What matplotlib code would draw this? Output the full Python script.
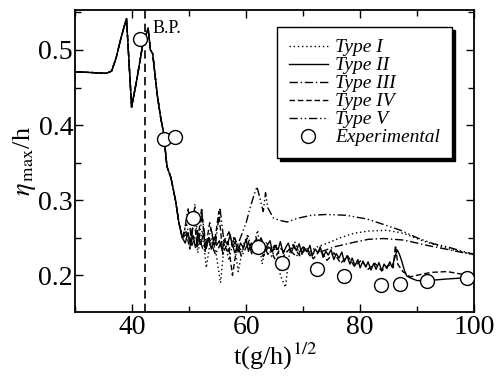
import matplotlib as mpl
mpl.use('Agg')
import matplotlib.pyplot as plt
from matplotlib.ticker import MultipleLocator

mpl.rcParams.update({'font.family': 'Liberation Serif'})
mpl.rcParams.update({'mathtext.fontset': 'stix'})

# common start (all simulations coincide before breaking)
x_common = [30.0, 35.5, 36.4, 37.2, 38.0, 39.0, 39.9, 40.8, 41.8, 42.8,
            43.2, 43.6, 44.4, 45.0, 45.5, 46.1, 46.8, 47.6, 48.2, 48.8]
y_common = [0.471, 0.469, 0.472, 0.49, 0.515, 0.542, 0.424, 0.46, 0.505, 0.529,
            0.50, 0.495, 0.44, 0.41, 0.39, 0.345, 0.33, 0.30, 0.27, 0.25]

# Type II (solid)
x_t2 = [49.3, 49.8, 50.2, 50.7, 51.1, 51.6, 52.0, 52.5, 53.0, 53.4, 53.9, 54.4,
        54.8, 55.3, 55.8, 56.2, 56.7, 57.2, 57.6, 58.1, 58.6, 59.0, 59.5, 60.0,
        60.4, 60.9, 61.4, 61.8, 62.3, 62.8, 63.2, 63.7, 64.2, 64.6, 65.1, 65.6,
        66.0, 66.5, 67.0, 67.4, 67.9, 68.4, 68.8, 69.3, 69.8, 70.2, 70.7, 71.2,
        71.6, 72.1, 72.6, 73.0, 73.5, 74.0, 74.4, 74.9, 75.4, 75.8, 76.3, 76.8,
        77.2, 77.7, 78.2, 78.6, 79.1, 79.6, 80.0, 80.5, 81.0, 81.4, 81.9, 82.4,
        82.8, 83.3, 83.8, 84.2, 84.7, 85.2, 85.6, 86.1, 86.5, 86.9, 87.3, 87.8,
        88.2, 89.0, 90.0, 91.8, 95.0, 98.8, 100.0]
y_t2 = [0.243, 0.257, 0.241, 0.253, 0.237, 0.25, 0.241, 0.255, 0.237, 0.249, 0.235, 0.251,
        0.24, 0.246, 0.233, 0.248, 0.241, 0.254, 0.238, 0.245, 0.231, 0.243, 0.237, 0.248,
        0.232, 0.243, 0.237, 0.25, 0.234, 0.245, 0.231, 0.24, 0.246, 0.231, 0.24, 0.234,
        0.245, 0.229, 0.238, 0.243, 0.23, 0.24, 0.233, 0.242, 0.228, 0.237, 0.231, 0.24,
        0.226, 0.235, 0.23, 0.238, 0.224, 0.232, 0.227, 0.234, 0.221, 0.229, 0.223, 0.231,
        0.218, 0.226, 0.215, 0.223, 0.213, 0.221, 0.21, 0.219, 0.211, 0.218, 0.207, 0.216,
        0.208, 0.217, 0.206, 0.215, 0.209, 0.218, 0.211, 0.224, 0.234, 0.228, 0.219, 0.206,
        0.199, 0.196, 0.193, 0.193, 0.195, 0.197, 0.197]

# Type I (dotted)
x_t1 = [49.5, 50.3, 51.0, 51.5, 52.3, 53.0, 53.8, 54.6, 55.5, 56.2, 57.0, 57.8,
        58.6, 59.5, 60.3, 61.0, 62.0, 62.8, 63.6, 64.5, 65.3, 66.0, 66.9, 67.6,
        68.5, 69.4, 70.3, 71.2, 72.5, 74.3, 76.5, 78.9, 81.5, 84.7, 87.6, 90.6,
        93.0, 95.2, 97.5, 100.0]
y_t1 = [0.27, 0.24, 0.29, 0.23, 0.26, 0.21, 0.25, 0.235, 0.19, 0.245, 0.22, 0.25,
        0.205, 0.24, 0.255, 0.23, 0.26, 0.215, 0.245, 0.225, 0.24, 0.2, 0.184, 0.23,
        0.245, 0.228, 0.238, 0.232, 0.238, 0.243, 0.25, 0.256, 0.259, 0.26, 0.256, 0.247,
        0.241, 0.236, 0.232, 0.227]

# Type III (dash-dot)
x_t3 = [49.6, 50.5, 51.4, 52.4, 53.5, 54.6, 55.7, 56.8, 58.0, 59.2, 60.3, 61.5,
        62.6, 63.8, 65.0, 66.2, 67.5, 68.8, 70.0, 71.2, 72.2, 73.0, 75.5, 78.9,
        81.5, 84.1, 87.6, 90.0, 92.3, 95.0, 97.5, 100.0]
y_t3 = [0.255, 0.24, 0.26, 0.235, 0.25, 0.228, 0.245, 0.232, 0.25, 0.225, 0.242, 0.23,
        0.25, 0.228, 0.24, 0.222, 0.235, 0.225, 0.238, 0.226, 0.232, 0.231, 0.238, 0.244,
        0.248, 0.249, 0.247, 0.243, 0.239, 0.235, 0.231, 0.228]

# Type IV (dashed)
x_t4 = [49.4, 50.1, 50.8, 51.4, 52.2, 52.8, 53.6, 54.4, 55.2, 55.9, 56.8, 57.6,
        58.4, 59.3, 60.2, 61.0, 62.0, 63.0, 64.0, 65.0, 66.0, 67.0, 68.2, 69.4,
        70.6, 71.8, 73.0, 74.2, 75.4, 76.6, 77.8, 79.0, 80.2, 81.4, 82.6, 83.8,
        85.0, 85.8, 86.2, 86.6, 87.5, 88.8, 90.5, 92.5, 95.3, 97.5, 100.0]
y_t4 = [0.26, 0.235, 0.28, 0.238, 0.29, 0.232, 0.27, 0.24, 0.285, 0.228, 0.245, 0.2,
        0.24, 0.232, 0.25, 0.228, 0.245, 0.225, 0.24, 0.222, 0.236, 0.23, 0.24, 0.226,
        0.236, 0.222, 0.234, 0.22, 0.23, 0.216, 0.226, 0.212, 0.22, 0.208, 0.216, 0.206,
        0.214, 0.21, 0.24, 0.215, 0.205, 0.198, 0.201, 0.204, 0.205, 0.202, 0.2]

# Type V (dash-dot-dot)
x_t5 = [49.2, 49.8, 50.4, 51.0, 51.6, 52.3, 53.0, 53.8, 54.6, 55.4, 56.1, 57.0,
        58.0, 59.0, 60.0, 60.7, 61.3, 61.9, 62.5, 63.0, 63.4, 63.8, 64.3, 64.8,
        66.0, 67.2, 69.0, 71.5, 74.0, 77.5, 81.2, 84.0, 87.1, 90.0, 92.9, 95.3,
        97.5, 100.0]
y_t5 = [0.26, 0.29, 0.245, 0.295, 0.24, 0.28, 0.236, 0.262, 0.24, 0.29, 0.245, 0.258,
        0.23, 0.25, 0.27, 0.29, 0.305, 0.318, 0.3, 0.285, 0.31, 0.29, 0.283, 0.276,
        0.273, 0.271, 0.276, 0.28, 0.281, 0.28, 0.275, 0.268, 0.26, 0.25, 0.242, 0.238,
        0.233, 0.228]

# experimental points
x_exp = [41.3, 45.5, 47.6, 50.6, 62.0, 66.3, 72.5, 77.1, 83.6, 87.0, 91.8, 98.8]
y_exp = [0.514, 0.382, 0.384, 0.277, 0.238, 0.216, 0.209, 0.199, 0.187, 0.188, 0.192, 0.196]

x_bp = 42.2


def main():
    fig = plt.figure(figsize=(4.98, 3.77), dpi=100)
    ax = fig.add_axes([0.151, 0.172, 0.801, 0.801])

    styles = [
        (x_t1, y_t1, (0, (1, 2)), 'Type I'),
        (x_t2, y_t2, '-', 'Type II'),
        (x_t3, y_t3, (0, (6, 2, 1, 2)), 'Type III'),
        (x_t4, y_t4, (0, (4, 2)), 'Type IV'),
        (x_t5, y_t5, (0, (6, 2, 1, 2, 1, 2)), 'Type V'),
    ]
    for xs, ys, ls, lab in styles:
        ax.plot(x_common + xs, y_common + ys, color='black', lw=1.0,
                linestyle=ls, label=lab)

    ax.plot(x_exp, y_exp, linestyle='none', marker='o', markersize=10,
            markerfacecolor='white', markeredgecolor='black',
            markeredgewidth=1.0, label='Experimental', zorder=5)

    ax.axvline(x_bp, color='black', lw=1.2, linestyle=(0, (5, 3)))
    ax.text(x_bp + 1.4, 0.523, 'B.P.', fontsize=13)

    ax.set_xlim(30, 100)
    ax.set_ylim(0.151, 0.553)
    ax.xaxis.set_major_locator(MultipleLocator(20))
    ax.xaxis.set_minor_locator(MultipleLocator(10))
    ax.yaxis.set_major_locator(MultipleLocator(0.1))
    ax.yaxis.set_minor_locator(MultipleLocator(0.05))
    ax.tick_params(which='both', direction='in', top=True, right=True,
                   width=1.0, labelsize=20)
    ax.tick_params(which='major', length=6)
    ax.tick_params(which='minor', length=4)
    ax.tick_params(axis='y', pad=1.5)
    ax.tick_params(axis='x', pad=2)
    ax.set_yticks([0.2, 0.3, 0.4, 0.5])
    ax.set_yticklabels(['0.2', '0.3', '0.4', '0.5'])
    for sp in ax.spines.values():
        sp.set_linewidth(1.3)

    ax.set_xlabel(r't(g/h)$^{1/2}$', fontsize=19, labelpad=1)
    ax.set_ylabel(r'$\eta_{\,\mathrm{max}}$/h', fontsize=19, labelpad=0)

    leg = ax.legend(loc='upper left', bbox_to_anchor=(0.506, 0.944),
                    prop={'style': 'italic', 'size': 14}, handlelength=2.0,
                    handletextpad=0.4, labelspacing=0.02, borderpad=0.6,
                    borderaxespad=0, fancybox=False, framealpha=1,
                    edgecolor='black', shadow={'color': 'black', 'alpha': 1.0})
    leg.get_frame().set_linewidth(1.0)

    fig.savefig('out.png', dpi=100)
    plt.close(fig)


if __name__ == "__main__":
    main()
